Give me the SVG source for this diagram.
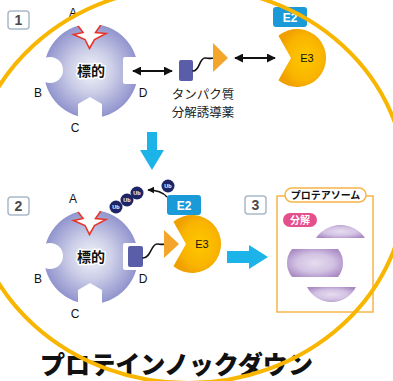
<svg xmlns="http://www.w3.org/2000/svg" width="393" height="381" viewBox="0 0 393 381">
  <style>
    .lbl { font-family: "Liberation Sans", Arial, sans-serif; font-size: 12px; fill: #111; text-anchor: middle; }
    .jp { font-family: "Noto Sans CJK JP", "Noto Sans", sans-serif; }
    .step rect { fill: #fff; stroke: #a9b9c8; stroke-width: 1.5; }
    .step text { font-family: "Liberation Sans", Arial, sans-serif; font-size: 14px; font-weight: bold; fill: #4a4a4a; text-anchor: middle; }
    .core-text { font-family: "Noto Sans CJK JP", sans-serif; font-size: 14px; font-weight: bold; fill: #111; text-anchor: middle; stroke: #fff; stroke-width: 3; stroke-linejoin: round; paint-order: stroke; }
    .ligand { fill: #5a5ea8; }
    .linker { fill: none; stroke: #111; stroke-width: 1.6; stroke-linecap: round; }
    .warhead { fill: #f4a62a; }
    .e2 rect { fill: #1a9ad6; }
    .e2 text { font-family: "Liberation Sans", Arial, sans-serif; font-size: 12px; font-weight: bold; fill: #fff; text-anchor: middle; }
    .e3-text { font-family: "Liberation Sans", Arial, sans-serif; font-size: 11px; fill: #111; text-anchor: middle; }
    .ub circle { fill: #1e2566; }
    .ub text { font-family: "Liberation Sans", Arial, sans-serif; font-size: 5.5px; font-weight: bold; fill: #fff; text-anchor: middle; }
    .dbl { fill: none; stroke: #111; stroke-width: 2; marker-start: url(#head); marker-end: url(#head); }
    .flow { fill: #1cb4e8; }
    .slice { fill: url(#purple); }
    .caption { font-size: 12.5px; fill: #222; text-anchor: middle; }
  </style>
  <defs>
    <marker id="head" viewBox="0 0 10 10" refX="9" refY="5" markerWidth="4.5" markerHeight="4.5" orient="auto-start-reverse">
      <path d="M0,0 L10,5 L0,10 z" fill="#111"/>
    </marker>
    <radialGradient id="targetFill" cx="0.5" cy="0.5" r="0.5">
      <stop offset="0" stop-color="#f3f3fa"/>
      <stop offset="0.45" stop-color="#cdcfe8"/>
      <stop offset="1" stop-color="#9194cd"/>
    </radialGradient>
    <radialGradient id="e3Fill" cx="0.55" cy="0.5" r="0.55">
      <stop offset="0" stop-color="#ffc800"/>
      <stop offset="0.7" stop-color="#f9b400"/>
      <stop offset="1" stop-color="#f0a000"/>
    </radialGradient>
    <radialGradient id="purple" cx="0.5" cy="0.5" r="0.6">
      <stop offset="0" stop-color="#e6dcef"/>
      <stop offset="0.55" stop-color="#d2c2e3"/>
      <stop offset="1" stop-color="#a98ac4"/>
    </radialGradient>
    <!-- target protein: sphere with binding pockets A-D -->
    <mask id="pockets" maskUnits="userSpaceOnUse" x="0" y="0" width="200" height="140">
      <rect x="0" y="0" width="200" height="140" fill="#fff"/>
      <polygon points="73,19 83,32.5 73.5,34.5 85,39.5 89.5,48.5 94.5,39.5 106,33.5 95.5,32.5 105,19" fill="#000"/>
      <circle cx="50" cy="70" r="13" fill="#000"/>
      <rect x="123" y="57" width="30" height="27" rx="2" fill="#000"/>
      <polygon points="78,130 78,104 90,97 102,104 102,130" fill="#000"/>
    </mask>
    <clipPath id="sphere">
      <circle cx="91" cy="71" r="47"/>
    </clipPath>
    <g id="target">
      <circle cx="91" cy="71" r="47" fill="url(#targetFill)" mask="url(#pockets)"/>
      <polyline points="73,19 83,32.5 73.5,34.5 85,39.5 89.5,48.5 94.5,39.5 106,33.5 95.5,32.5 105,19" fill="none" stroke="#e8352b" stroke-width="1.6" stroke-linejoin="miter" clip-path="url(#sphere)"/>
      <text class="core-text" x="91" y="76">標的</text>
      <text class="lbl" x="73" y="17">A</text>
      <text class="lbl" x="38" y="97">B</text>
      <text class="lbl" x="75" y="132">C</text>
      <text class="lbl" x="143" y="97">D</text>
    </g>
  </defs>

  <!-- step badges -->
  <g class="step" id="step-1"><rect x="8" y="11" width="21" height="18" rx="3"/><text x="18.5" y="25">1</text></g>
  <g class="step" id="step-2"><rect x="8" y="197" width="21" height="18" rx="3"/><text x="18.5" y="211">2</text></g>
  <g class="step" id="step-3"><rect x="245" y="196" width="21" height="18" rx="3"/><text x="255.5" y="210">3</text></g>

  <!-- stage 1 -->
  <g id="target-1"><use href="#target"/></g>
  <g id="degrader-1">
    <rect class="ligand" x="179" y="60" width="14" height="21" rx="2"/>
    <path class="linker" d="M193,71 C200,71 199,58 205,58 C208,58 210,59 214,58"/>
    <polygon class="warhead" points="213,43 228,58 213,72"/>
    <text class="jp caption" x="203" y="98.5">タンパク質</text>
    <text class="jp caption" x="203" y="117">分解誘導薬</text>
  </g>
  <g id="e2-1" class="e2"><rect x="273" y="7" width="34" height="20" rx="3"/><text x="290" y="22">E2</text></g>
  <g id="e3-1">
    <path d="M291,58 L278.4,35.8 A29,29 0 1 1 278.4,80.2 Z" fill="url(#e3Fill)"/>
    <text class="e3-text" x="307" y="62">E3</text>
  </g>

  <!-- stage 2 -->
  <g id="target-2"><use href="#target" transform="translate(0,186)"/></g>
  <g id="degrader-2">
    <rect class="ligand" x="128" y="246" width="15" height="21" rx="2"/>
    <path class="linker" d="M143,258 C151,258 151,244 157,244 C160,244 162,245 166,244"/>
  </g>
  <g id="e3-2">
    <path d="M186,244 L173.4,221.8 A29,29 0 1 1 173.4,266.2 Z" fill="url(#e3Fill)"/>
    <polygon class="warhead" points="164,230 179,244 164,258"/>
    <text class="e3-text" x="202" y="248">E3</text>
  </g>
  <g id="e2-2" class="e2"><rect x="167" y="195" width="34" height="20" rx="3"/><text x="184" y="210">E2</text></g>
  <g id="ub-chain" class="ub">
    <circle cx="116" cy="207" r="6.5"/><text x="116" y="209">Ub</text>
    <circle cx="127" cy="200" r="6.5"/><text x="127" y="202">Ub</text>
    <circle cx="137" cy="193" r="6.5"/><text x="137" y="195">Ub</text>
  </g>
  <g id="ub-free" class="ub">
    <circle cx="168" cy="186" r="6.5"/><text x="168" y="188">Ub</text>
  </g>

  <!-- stage 3: proteasome -->
  <g id="proteasome">
    <rect x="277" y="196" width="96" height="116" fill="#fff" stroke="#f6b54a" stroke-width="1.5"/>
    <rect x="285" y="188" width="81" height="14" rx="7" fill="#fff" stroke="#f6b54a" stroke-width="1.5"/>
    <text class="jp" x="325.5" y="199" font-size="10" font-weight="bold" text-anchor="middle" fill="#111">プロテアソーム</text>
    <rect x="283" y="213" width="34" height="14" rx="7" fill="#e44f8c"/>
    <text class="jp" x="300" y="224" font-size="10" font-weight="bold" text-anchor="middle" fill="#fff">分解</text>
    <path class="slice" d="M316,238 A29.6,29.6 0 0 1 365,238 Z"/>
    <path class="slice" d="M292,249 H338 A22,22 0 0 1 338,277 H292 A22,22 0 0 1 292,249 Z"/>
    <path class="slice" d="M307,287 H356 A27.5,27.5 0 0 1 307,287 Z"/>
  </g>

  <!-- connectors -->
  <g id="connectors">
    <line class="dbl" x1="133" y1="71" x2="172" y2="71"/>
    <line class="dbl" x1="235" y1="58" x2="275" y2="58"/>
    <path d="M167,197 Q161,190 148,190" fill="none" stroke="#111" stroke-width="1.6" marker-end="url(#head)"/>
    <polygon class="flow" points="147,132 157,132 157,150 164,150 152,170 140,150 147,150"/>
    <polygon class="flow" points="227,251 249,251 249,245 268,257 249,269 249,263 227,263"/>
  </g>

  <!-- title -->
  <text id="title" class="jp" x="176.5" y="374" font-size="25" font-weight="900" text-anchor="middle" fill="#111" textLength="273" lengthAdjust="spacingAndGlyphs">プロテインノックダウン</text>

  <!-- framing ring -->
  <ellipse id="ring" cx="188" cy="185" rx="218" ry="198" fill="none" stroke="#f8b600" stroke-width="4"/>
</svg>
